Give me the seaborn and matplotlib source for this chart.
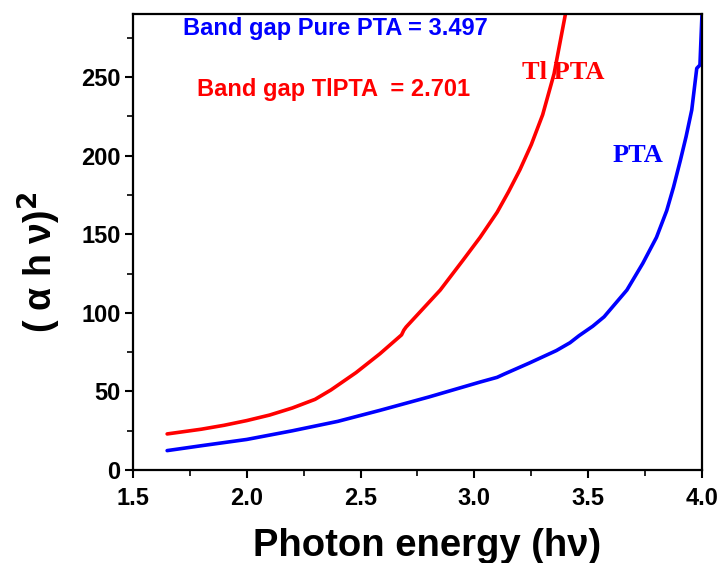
import numpy as np
import pandas as pd
import matplotlib
matplotlib.use("Agg")
import matplotlib.pyplot as plt
import seaborn as sns
from matplotlib.ticker import MultipleLocator

# ---- data ----
tl_x = [1.65, 1.8, 1.9, 2.0, 2.1, 2.2, 2.3, 2.37, 2.48, 2.585, 2.68, 2.69, 2.70, 2.85,
        2.95, 3.025, 3.1, 3.15, 3.2, 3.25, 3.3, 3.35, 3.40]
tl_y = [23, 26, 28.5, 31.5, 35, 39.5, 45, 51, 62, 74, 86, 89, 91, 114.5,
        133.5, 148, 164, 177, 191, 207, 226, 252, 290]

pta_x = [1.65, 1.8, 2.0, 2.2, 2.4, 2.585, 2.8, 3.025, 3.1, 3.13, 3.24, 3.36, 3.42,
         3.46, 3.52, 3.57, 3.67, 3.74, 3.80, 3.845, 3.875, 3.905, 3.93, 3.955, 3.977,
         3.991, 4.0]
pta_y = [12.4, 15.5, 19.5, 25, 31, 38, 46.5, 56, 59, 61, 68, 76, 81,
         85.5, 91.5, 97.5, 114.5, 131.5, 148, 165, 180, 197, 212, 229, 255.5,
         257.6, 290]

xticks = [1.5, 2.0, 2.5, 3.0, 3.5, 4.0]
yticks = [0, 50, 100, 150, 200, 250]

df = pd.concat([
    pd.DataFrame({"x": tl_x, "y": tl_y, "s": "TlPTA"}),
    pd.DataFrame({"x": pta_x, "y": pta_y, "s": "PTA"}),
])

sns.set_style("ticks")
plt.rcParams["font.family"] = ["Liberation Sans", "DejaVu Sans"]
plt.rcParams["text.color"] = "black"
plt.rcParams["axes.labelcolor"] = "black"

fig = plt.figure(figsize=(7.24, 5.63), dpi=100)
ax = fig.add_axes([0.1837, 0.165, 0.7859, 0.810])

sns.lineplot(data=df, x="x", y="y", hue="s", palette={"TlPTA": "#ff0000", "PTA": "#0000ff"},
             linewidth=2.6, ax=ax, legend=False, sort=False, estimator=None)
for ln in ax.lines:
    ln.set_solid_joinstyle("round")

ax.set_xlim(1.5, 4.0)
ax.set_ylim(0, 290)
ax.set_xticks(xticks)
ax.set_yticks(yticks)
ax.set_xticklabels([f"{v:.1f}" for v in xticks])
ax.set_yticklabels([str(v) for v in yticks])
ax.xaxis.set_minor_locator(MultipleLocator(0.25))
ax.yaxis.set_minor_locator(MultipleLocator(25))
ax.tick_params(which="major", direction="out", length=6, width=1.5, labelsize=17,
               colors="black")
ax.tick_params(axis="x", which="major", pad=6)
ax.tick_params(axis="y", which="major", pad=3)
ax.tick_params(which="minor", direction="out", length=4, width=1.2, colors="black")
for lab in ax.get_xticklabels() + ax.get_yticklabels():
    lab.set_fontweight("bold")
for sp in ax.spines.values():
    sp.set_visible(True)
    sp.set_linewidth(1.6)
    sp.set_color("black")

ax.set_xlabel("Photon energy (h\u03bd)", fontsize=27.5, fontweight="bold")
ax.set_ylabel("( \u03b1 h \u03bd)$^{\\mathbf{2}}$", fontsize=27, fontweight="bold")
ax.xaxis.set_label_coords(0.517, -0.127)
ax.yaxis.set_label_coords(-0.123, 0.456)

ax.text(1.72, 281, "Band gap Pure PTA = 3.497", color="#0000ff", fontsize=17,
        fontweight="bold", va="center", ha="left")
ax.text(1.78, 242, "Band gap TlPTA  = 2.701", color="#ff0000", fontsize=17,
        fontweight="bold", va="center", ha="left")
ax.text(3.209, 253, "Tl PTA", color="#ff0000", fontsize=19, fontweight="bold",
        family=["Liberation Serif", "DejaVu Serif"], va="center", ha="left")
ax.text(3.609, 200, "PTA", color="#0000ff", fontsize=19, fontweight="bold",
        family=["Liberation Serif", "DejaVu Serif"], va="center", ha="left")

fig.savefig("out.png", dpi=100)
